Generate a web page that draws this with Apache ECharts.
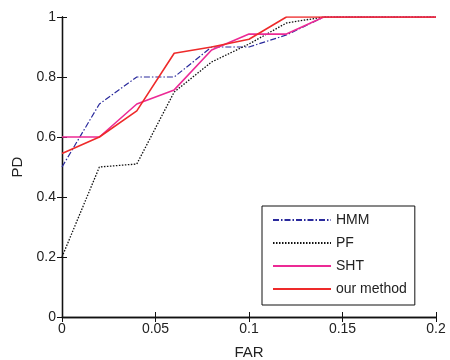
<!DOCTYPE html>
<html><head><meta charset="utf-8">
<script src="https://cdn.jsdelivr.net/npm/echarts@6/dist/echarts.min.js"></script>
<style>html,body{margin:0;padding:0;background:#fff}#c{width:450px;height:360px}</style>
</head><body><div id="c"></div>
<script>
var far = [0, 0.02, 0.04, 0.06, 0.08, 0.1, 0.12, 0.14, 0.16, 0.18, 0.2];
var hmm = [0.50, 0.71, 0.80, 0.80, 0.90, 0.90, 0.94, 1, 1, 1, 1];
var pf = [0.20, 0.50, 0.51, 0.75, 0.85, 0.91, 0.98, 1, 1, 1, 1];
var sht = [0.60, 0.60, 0.71, 0.757, 0.89, 0.943, 0.943, 1, 1, 1, 1];
var ours = [0.545, 0.60, 0.687, 0.879, 0.90, 0.926, 1, 1, 1, 1, 1];
var xTicks = [0, 0.05, 0.1, 0.15, 0.2];
var yTicks = [0, 0.2, 0.4, 0.6, 0.8, 1];

function pairs(ys){ return far.map(function(x,i){ return [x, ys[i]]; }); }
var font = 'Liberation Sans, Arial, sans-serif';
var chart = echarts.init(document.getElementById('c'), null, {renderer:'canvas'});
var axisCommon = {
  axisLine:{show:true, lineStyle:{color:'#111', width:1.3}},
  axisTick:{show:true, inside:true, length:5, lineStyle:{color:'#111'}},
  splitLine:{show:false}
};
chart.setOption({
  animation:false,
  backgroundColor:'#fff',
  grid:{left:62, right:14, top:17, bottom:43, outerBoundsMode:'none', containLabel:false},
  xAxis:[
    Object.assign({type:'value', min:0, max:0.2, interval:0.05, position:'bottom',
      name:'FAR', nameLocation:'middle', nameGap:28,
      nameTextStyle:{fontFamily:font, fontSize:15, color:'#222'},
      axisLabel:{fontFamily:font, fontSize:14, color:'#222', margin:5,
        formatter:function(v){ return String(+v.toFixed(2)); }}}, axisCommon),
    Object.assign({type:'value', min:0, max:0.2, interval:0.05, position:'top',
      axisLabel:{show:false}}, axisCommon)
  ],
  yAxis:[
    Object.assign({type:'value', min:0, max:1, interval:0.2, position:'left',
      name:'PD', nameLocation:'middle', nameGap:36,
      nameTextStyle:{fontFamily:font, fontSize:15, color:'#222'},
      axisLabel:{fontFamily:font, fontSize:14, color:'#222', margin:6,
        formatter:function(v){ return String(+v.toFixed(1)); }}}, axisCommon),
    Object.assign({type:'value', min:0, max:1, interval:0.2, position:'right',
      axisLabel:{show:false}}, axisCommon)
  ],
  legend:{
    left:262, top:206, orient:'vertical',
    itemWidth:58, itemHeight:14, itemGap:9,
    padding:[7,8,9,10],
    backgroundColor:'#fff', borderColor:'#111', borderWidth:1, borderRadius:0,
    itemStyle:{opacity:0},
    textStyle:{fontFamily:font, fontSize:14, color:'#222'},
    data:['HMM','PF','SHT','our method']
  },
  series:[
    {name:'HMM', type:'line', symbol:'none', data:pairs(hmm),
      lineStyle:{color:'#2a2a9c', width:1.2, type:[6,2,1.5,2]}, itemStyle:{color:'#2a2a9c'}},
    {name:'PF', type:'line', symbol:'none', data:pairs(pf),
      lineStyle:{color:'#111', width:1.3, type:[1.5,1.5]}, itemStyle:{color:'#111'}},
    {name:'SHT', type:'line', symbol:'none', data:pairs(sht),
      lineStyle:{color:'#ec2a95', width:1.6, type:'solid'}, itemStyle:{color:'#ec2a95'}},
    {name:'our method', type:'line', symbol:'none', data:pairs(ours),
      lineStyle:{color:'#ee2a2a', width:1.6, type:'solid'}, itemStyle:{color:'#ee2a2a'}}
  ]
});
</script></body></html>
